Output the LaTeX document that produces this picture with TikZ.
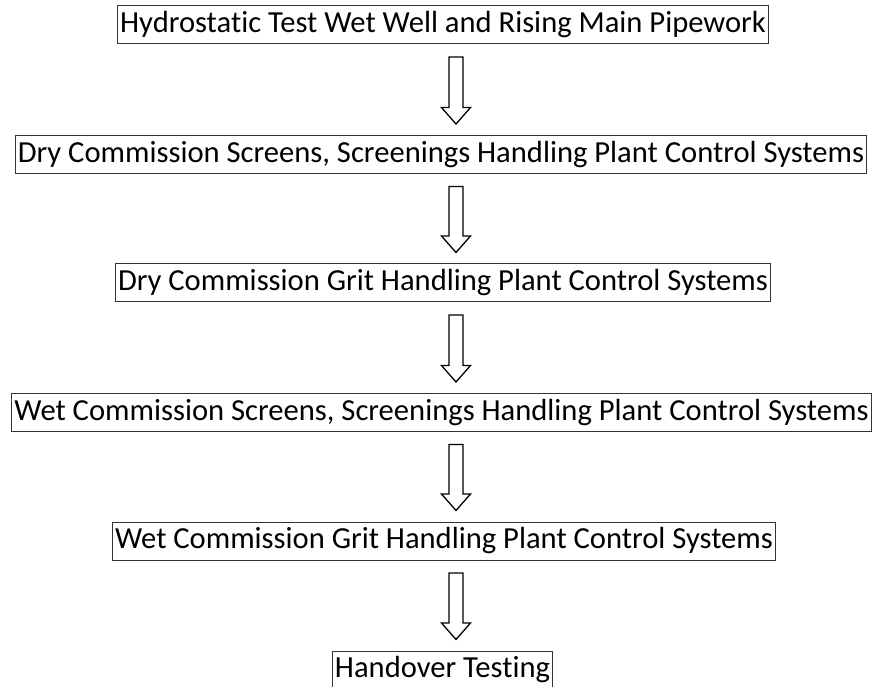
\documentclass[tikz,border=0pt]{standalone}
\usepackage{fontspec}
\setmainfont[Ligatures=NoCommon]{Carlito}
\usetikzlibrary{calc}

\tikzset{
  stepbox/.style={draw=black!80, line width=1pt, rectangle, inner xsep=2.5pt, inner ysep=0pt,
    minimum height=38pt, font=\fontsize{30.6}{34}\selectfont},
  flowarrow/.style={draw=black, line width=1.3pt, line join=miter, to path={
    let \p1=(\tikztostart), \p2=(\tikztotarget), \n1={\x1+#1pt} in
    (\n1-7pt,\y1-12.5pt) -- (\n1-7pt,\y2+27.5pt) -- (\n1-14.5pt,\y2+27.5pt)
    -- (\n1,\y2+11pt) -- (\n1+14.5pt,\y2+27.5pt) -- (\n1+7pt,\y2+27.5pt)
    -- (\n1+7pt,\y1-12.5pt) -- cycle}},
  flowarrow/.default=13
}

\begin{document}
\begin{tikzpicture}[x=1pt,y=-1pt]
\useasboundingbox (0,0) rectangle (876,687);

% commissioning steps
\node[stepbox] (hydro) at (443,25) {Hydrostatic Test Wet Well and Rising Main Pipework};
\node[stepbox] (dryscreen) at (441,154.5) {Dry Commission Screens, Screenings Handling Plant Control Systems};
\node[stepbox] (drygrit) at (443,283) {Dry Commission Grit Handling Plant Control Systems};
\node[stepbox] (wetscreen) at (441.5,412.5) {Wet Commission Screens, Screenings Handling Plant Control Systems};
\node[stepbox] (wetgrit) at (444,541) {Wet Commission Grit Handling Plant Control Systems};
\node[stepbox] (handover) at (442.5,670) {Handover Testing};

% arrows between steps
\draw[flowarrow] (hydro.south) to (dryscreen.north);
\draw[flowarrow=15] (dryscreen.south) to (drygrit.north);
\draw[flowarrow] (drygrit.south) to (wetscreen.north);
\draw[flowarrow=14.5] (wetscreen.south) to (wetgrit.north);
\draw[flowarrow=12] (wetgrit.south) to (handover.north);
\end{tikzpicture}
\end{document}
